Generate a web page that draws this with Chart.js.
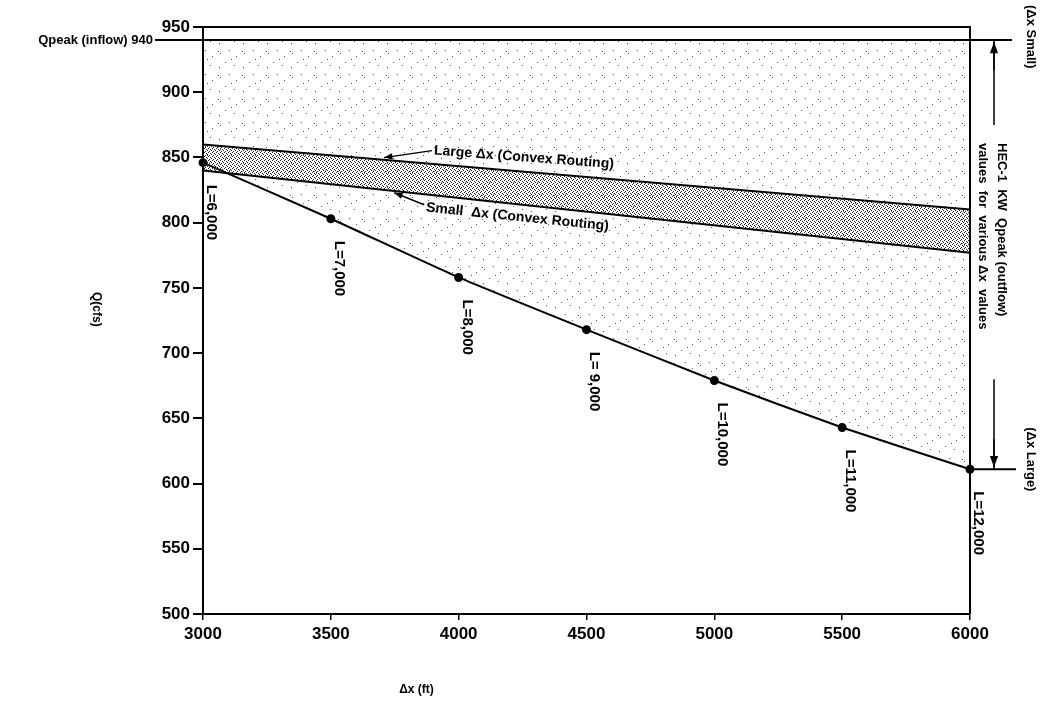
<!DOCTYPE html>
<html>
<head>
<meta charset="utf-8">
<script src="https://cdn.jsdelivr.net/npm/chart.js@4"></script>
<style>
  html, body { margin: 0; padding: 0; background: #fff; }
  #wrap { width: 1043px; height: 708px; }
</style>
</head>
<body>
<div id="wrap"><canvas id="chart" width="1043" height="708"></canvas></div>
<script>
// HEC-1 KW routing: Qpeak vs dx
const dxValues = [3000, 3500, 4000, 4500, 5000, 5500, 6000];
const qOutflow = [846, 803, 758, 718, 679, 643, 611];
const reachLabels = ['L=6,000', 'L=7,000', 'L=8,000', 'L= 9,000', 'L=10,000', 'L=11,000', 'L=12,000'];
const bandDx = [3000, 6000];
const qLargeDx = [860, 810];
const qSmallDx = [840, 777];
const qInflow = 940;

const FONT = '"Liberation Sans", Arial, sans-serif';

// stipple patterns for the shaded areas
function makePattern(size, dots, color) {
    const c = document.createElement('canvas');
    c.width = size; c.height = size;
    const g = c.getContext('2d');
    g.fillStyle = color;
    dots.forEach(d => g.fillRect(d[0], d[1], 1, 1));
    return document.getElementById('chart').getContext('2d').createPattern(c, 'repeat');
}
const lightStipple = makePattern(24, [[2, 3], [4, 5], [13, 2], [9, 14], [18, 17], [20, 8], [3, 19], [15, 11]], '#555');
const denseStipple = makePattern(4, [[0, 0], [2, 1], [1, 3], [3, 2]], '#222');

function pts(xs, ys) {
    return xs.map((x, i) => ({ x: x, y: ys[i] }));
}
function lerp(xs, ys, x) {
    return ys[0] + (ys[1] - ys[0]) * (x - xs[0]) / (xs[1] - xs[0]);
}

function arrow(ctx, x1, y1, x2, y2, head) {
    ctx.beginPath();
    ctx.moveTo(x1, y1);
    ctx.lineTo(x2, y2);
    ctx.stroke();
    const a = Math.atan2(y2 - y1, x2 - x1);
    ctx.beginPath();
    ctx.moveTo(x2, y2);
    ctx.lineTo(x2 - head * Math.cos(a - 0.35), y2 - head * Math.sin(a - 0.35));
    ctx.lineTo(x2 - head * Math.cos(a + 0.35), y2 - head * Math.sin(a + 0.35));
    ctx.closePath();
    ctx.fill();
}

function vText(ctx, txt, x, y, size) {
    ctx.save();
    ctx.translate(x, y);
    ctx.rotate(Math.PI / 2);
    ctx.font = 'bold ' + size + 'px ' + FONT;
    ctx.textAlign = 'left';
    ctx.textBaseline = 'middle';
    ctx.fillText(txt, 0, 0);
    ctx.restore();
}

const annotations = {
    id: 'annotations',
    afterDraw(chart) {
        const ctx = chart.ctx;
        const xs = chart.scales.x, ys = chart.scales.y;
        const area = chart.chartArea;
        ctx.save();
        ctx.strokeStyle = '#000';
        ctx.fillStyle = '#000';

        // top and right frame
        ctx.lineWidth = 2;
        ctx.beginPath();
        ctx.moveTo(area.left, area.top);
        ctx.lineTo(area.right, area.top);
        ctx.lineTo(area.right, area.bottom);
        ctx.stroke();

        // inflow peak line, extends past both sides
        const yIn = ys.getPixelForValue(qInflow);
        ctx.beginPath();
        ctx.moveTo(area.left - 48, yIn);
        ctx.lineTo(area.right + 42, yIn);
        ctx.stroke();
        ctx.font = 'bold 13px ' + FONT;
        ctx.textAlign = 'right';
        ctx.textBaseline = 'middle';
        ctx.fillText('Qpeak (inflow) 940', area.left - 50, yIn);

        // outflow at largest dx
        const yLow = ys.getPixelForValue(qOutflow[qOutflow.length - 1]);
        ctx.beginPath();
        ctx.moveTo(area.right, yLow);
        ctx.lineTo(area.right + 46, yLow);
        ctx.stroke();

        // range arrows on the right
        const ax = area.right + 24;
        ctx.lineWidth = 1.5;
        ctx.beginPath();
        ctx.moveTo(ax, yIn);
        ctx.lineTo(ax, yIn + 85);
        ctx.stroke();
        arrow(ctx, ax, yIn + 30, ax, yIn + 2, 12);
        ctx.beginPath();
        ctx.moveTo(ax, yLow - 90);
        ctx.lineTo(ax, yLow);
        ctx.stroke();
        arrow(ctx, ax, yLow - 30, ax, yLow - 2, 12);

        vText(ctx, '(\u0394x Small)', area.right + 61, 5, 13);
        vText(ctx, '(\u0394x Large)', area.right + 61, yLow - 42, 13);
        vText(ctx, 'HEC-1  KW  Qpeak (outflow)', area.right + 32, 143, 13);
        vText(ctx, 'values  for  various \u0394x  values', area.right + 13, 143, 13);

        // reach length labels under each point
        const meta = chart.getDatasetMeta(2);
        meta.data.forEach((p, i) => {
            vText(ctx, reachLabels[i], p.x + 8, p.y + 22, 15);
        });

        // band labels
        const upX = 3700, loX = 3740;
        const upPx = xs.getPixelForValue(upX), upPy = ys.getPixelForValue(lerp(bandDx, qLargeDx, upX));
        const loPx = xs.getPixelForValue(loX), loPy = ys.getPixelForValue(lerp(bandDx, qSmallDx, loX));
        ctx.lineWidth = 1.5;
        arrow(ctx, upPx + 50, upPy - 9, upPx + 2, upPy - 2, 9);
        arrow(ctx, loPx + 32, loPy + 14, loPx + 2, loPy + 2, 9);

        const slopeUp = Math.atan2(ys.getPixelForValue(qLargeDx[1]) - ys.getPixelForValue(qLargeDx[0]),
            xs.getPixelForValue(bandDx[1]) - xs.getPixelForValue(bandDx[0]));
        ctx.font = 'bold 14px ' + FONT;
        ctx.textAlign = 'left';
        ctx.textBaseline = 'middle';
        ctx.save();
        ctx.translate(upPx + 52, upPy - 9);
        ctx.rotate(slopeUp * 0.9);
        ctx.fillText('Large \u0394x (Convex Routing)', 0, 0);
        ctx.restore();
        ctx.save();
        ctx.translate(loPx + 34, loPy + 17);
        ctx.rotate(slopeUp * 1.2);
        ctx.fillText('Small  \u0394x (Convex Routing)', 0, 0);
        ctx.restore();

        // axis titles
        ctx.font = 'bold 12px ' + FONT;
        ctx.textAlign = 'center';
        ctx.textBaseline = 'middle';
        ctx.fillText('\u0394x (ft)', (area.left + area.right) / 2 - 170, 690);
        vText(ctx, 'Q(cfs)', 96, 292, 12);

        ctx.restore();
    }
};

new Chart(document.getElementById('chart'), {
    type: 'line',
    data: {
        datasets: [
            {
                label: 'Small dx (Convex Routing)',
                data: pts(bandDx, qSmallDx),
                borderColor: '#000',
                borderWidth: 2,
                pointRadius: 0,
                fill: '+1',
                backgroundColor: denseStipple,
            },
            {
                label: 'Large dx (Convex Routing)',
                data: pts(bandDx, qLargeDx),
                borderColor: '#000',
                borderWidth: 2,
                pointRadius: 0,
                fill: false,
            },
            {
                label: 'HEC-1 KW Qpeak',
                data: pts(dxValues, qOutflow),
                borderColor: '#000',
                borderWidth: 2,
                pointRadius: 3.5,
                pointBackgroundColor: '#000',
                pointBorderColor: '#000',
                tension: 0.15,
                clip: false,
                fill: { value: qInflow },
                backgroundColor: lightStipple,
            }
        ]
    },
    options: {
        responsive: false,
        animation: false,
        devicePixelRatio: 1,
        layout: { padding: { top: 27, right: 73, left: 0, bottom: 0 } },
        scales: {
            x: {
                type: 'linear',
                min: 3000,
                max: 6000,
                ticks: {
                    stepSize: 500,
                    color: '#000',
                    font: { family: FONT, size: 17, weight: 'bold' },
                    padding: 4,
                    maxRotation: 0,
                    callback: v => String(v),
                },
                grid: { drawOnChartArea: false, color: '#000', tickLength: 6, lineWidth: 1.5 },
                border: { color: '#000', width: 2 },
                afterFit: s => { s.height = 94; },
            },
            y: {
                min: 500,
                max: 950,
                ticks: {
                    stepSize: 50,
                    color: '#000',
                    font: { family: FONT, size: 17, weight: 'bold' },
                    padding: 3,
                },
                grid: { drawOnChartArea: false, color: '#000', tickLength: 10, lineWidth: 2 },
                border: { color: '#000', width: 2 },
                afterFit: s => { s.width = 203; },
            }
        },
        plugins: {
            legend: { display: false },
            tooltip: { enabled: false },
        }
    },
    plugins: [annotations]
});
</script>
</body>
</html>
